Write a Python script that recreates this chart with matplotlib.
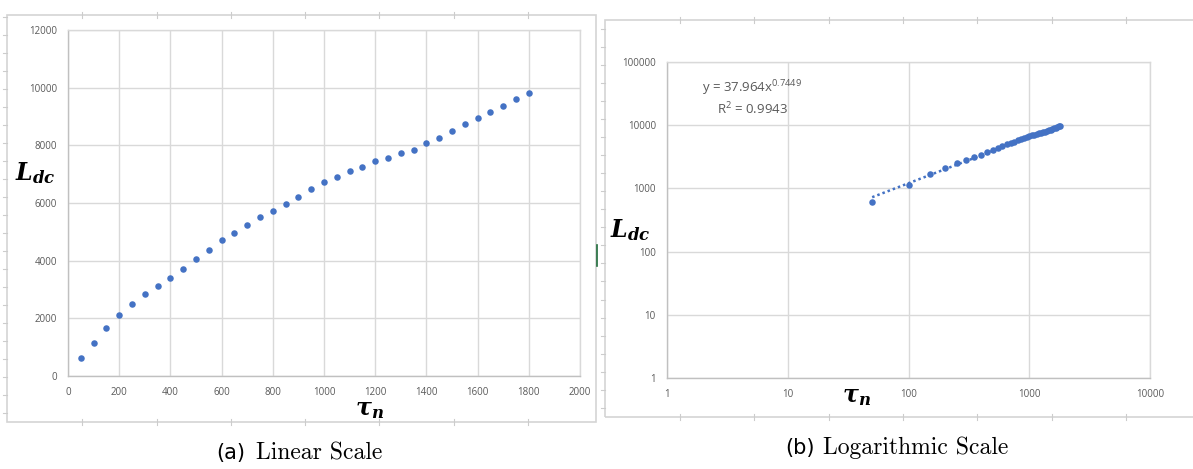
import numpy as np
import matplotlib
matplotlib.use("Agg")
import matplotlib.pyplot as plt
from matplotlib.patches import Rectangle
from matplotlib.lines import Line2D

plt.rcParams["mathtext.fontset"] = "dejavuserif"

# data
tau_n = [50, 100, 150, 200, 250, 300, 350, 400, 450, 500, 550, 600,
         650, 700, 750, 800, 850, 900, 950, 1000, 1050, 1100, 1150, 1200,
         1250, 1300, 1350, 1400, 1450, 1500, 1550, 1600, 1650, 1700, 1750, 1800]
l_dc = [620, 1130, 1680, 2110, 2500, 2850, 3120, 3400, 3720, 4060, 4380, 4700,
        4960, 5230, 5500, 5740, 5980, 6200, 6480, 6720, 6900, 7100, 7260, 7450,
        7570, 7720, 7830, 8080, 8270, 8500, 8740, 8940, 9170, 9370, 9600, 9800]

lin_xticks = [0, 200, 400, 600, 800, 1000, 1200, 1400, 1600, 1800, 2000]
lin_yticks = [0, 2000, 4000, 6000, 8000, 10000, 12000]
log_xticks = [1, 10, 100, 1000, 10000]
log_yticks = [1, 10, 100, 1000, 10000, 100000]

fit_label = r"y = 37.964x$^{\mathregular{0.7449}}$"
r2_label = r"R$^{\mathregular{2}}$ = 0.9943"
cap_tags = ["(a)", "(b)"]
cap_texts = ["Linear Scale", "Logarithmic Scale"]

blue = "#4472C4"
grid_c = "#d9d9d9"
tick_c = "#595959"

fig = plt.figure(figsize=(11.93, 4.69), dpi=100)

# chart-area borders with little ruler marks
def frame(x0, y0, x1, y1):
    fig.patches.append(Rectangle((x0, y0), x1 - x0, y1 - y0, transform=fig.transFigure,
                                 fill=False, edgecolor="#d4d4d4", lw=1.2))
    for xx in np.arange(x0 + 0.063, x1, 0.0623):
        for yy in (y0, y1):
            fig.lines.append(Line2D([xx, xx], [yy - 0.006, yy + 0.006], transform=fig.transFigure,
                                    color="#cccccc", lw=0.8))
    for yy in np.arange(y0 + 0.02, y1, 0.0384):
        fig.lines.append(Line2D([x0 - 0.0035, x0], [yy, yy], transform=fig.transFigure,
                                color="#cccccc", lw=0.8))

frame(0.0059, 0.100, 0.4996, 0.968)
frame(0.5071, 0.111, 1.02, 0.957)
fig.lines.append(Line2D([0.5005, 0.5005], [0.433, 0.478], transform=fig.transFigure,
                        color="#1e6b3a", lw=1.2))

def style(ax):
    ax.grid(True, color=grid_c, lw=1.0)
    ax.set_axisbelow(True)
    for s in ax.spines.values():
        s.set_color(grid_c)
        s.set_linewidth(1.0)
    ax.spines["left"].set_color("#c0c0c0")
    ax.spines["bottom"].set_color("#c0c0c0")
    ax.tick_params(length=0, labelsize=7, labelcolor=tick_c, pad=8)
    for lab in ax.get_xticklabels() + ax.get_yticklabels():
        lab.set_family("Open Sans")

label_kw = dict(fontsize=17, color="black")

# (a) linear
ax1 = fig.add_axes([0.0570, 0.1983, 0.4292, 0.7377])
ax1.scatter(tau_n, l_dc, s=22, color=blue, zorder=3, linewidths=0)
ax1.set_xlim(0, 2000)
ax1.set_ylim(0, 12000)
ax1.set_xticks(lin_xticks)
ax1.set_yticks(lin_yticks)
style(ax1)
fig.text(0.030, 0.63, r"$\mathbfit{L}_{\mathbfit{dc}}$", ha="center", va="center", **label_kw)
fig.text(0.310, 0.128, r"$\mathbfit{\tau}_{\mathbfit{n}}$", ha="center", va="center", **label_kw)

# (b) log-log with power trendline
ax2 = fig.add_axes([0.5591, 0.1940, 0.4049, 0.6738])
ax2.set_xscale("log")
ax2.set_yscale("log")
slope, intercept = np.polyfit(np.log(tau_n), np.log(l_dc), 1)
xfit = np.geomspace(tau_n[0], tau_n[-1], 50)
ax2.plot(xfit, np.exp(intercept) * xfit ** slope, ls=(0, (1, 1.2)), color=blue, lw=1.8, zorder=2)
ax2.scatter(tau_n, l_dc, s=22, color=blue, zorder=3, linewidths=0)
ax2.set_xlim(1, 10000)
ax2.set_ylim(1, 100000)
ax2.set_xticks(log_xticks)
ax2.set_yticks(log_yticks)
ax2.xaxis.set_minor_locator(matplotlib.ticker.NullLocator())
ax2.yaxis.set_minor_locator(matplotlib.ticker.NullLocator())
ax2.set_xticklabels([str(v) for v in log_xticks])
ax2.set_yticklabels([str(v) for v in log_yticks])
style(ax2)
ax2.text(0.176, 0.918, fit_label, transform=ax2.transAxes, ha="center", va="center",
         fontsize=9.5, color=tick_c, family="Open Sans")
ax2.text(0.176, 0.850, r2_label, transform=ax2.transAxes, ha="center", va="center",
         fontsize=9.5, color=tick_c, family="Open Sans")
fig.text(0.528, 0.51, r"$\mathbfit{L}_{\mathbfit{dc}}$", ha="center", va="center", **label_kw)
fig.text(0.718, 0.155, r"$\mathbfit{\tau}_{\mathbfit{n}}$", ha="center", va="center", **label_kw)

# captions: sans tag + serif text
cap_pos = [(0.2054, 0.2146, 0.034), (0.6830, 0.6900, 0.045)]
for tag, txt, (xr, xl, yy) in zip(cap_tags, cap_texts, cap_pos):
    fig.text(xr, yy, tag, ha="right", va="center", fontsize=15, family="DejaVu Sans")
    fig.text(xl, yy, txt, ha="left", va="center", fontsize=17, family="cmr10")

fig.savefig("out.png", dpi=100)
